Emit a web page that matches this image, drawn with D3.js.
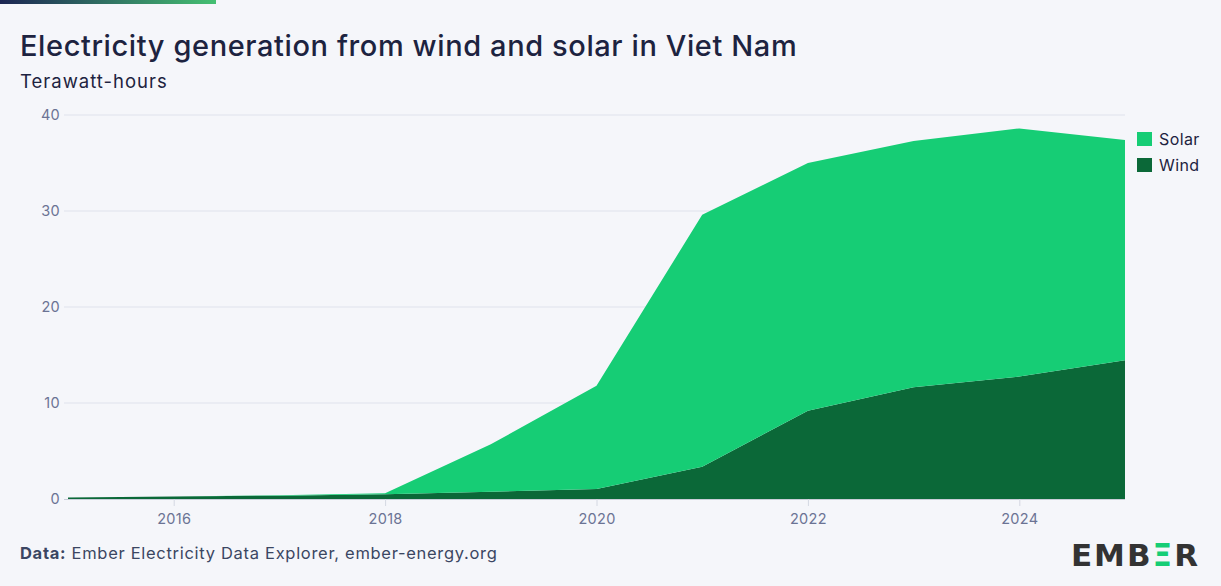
<!DOCTYPE html>
<html>
<head>
<meta charset="utf-8">
<script src="https://cdn.jsdelivr.net/npm/d3@7"></script>
<style>
  html, body { margin: 0; padding: 0; background: #f5f6fa; }
  svg { display: block; font-family: Inter, "Noto Sans", sans-serif; }
</style>
</head>
<body>
<svg id="drawing_region"></svg>
<script>
// values in TWh
const years = [2015, 2016, 2017, 2018, 2019, 2020, 2021, 2022, 2023, 2024, 2025];
const wind  = [0.15, 0.25, 0.35, 0.5, 0.75, 1.05, 3.35, 9.2, 11.65, 12.75, 14.45];
const solar = [0.0, 0.0, 0.05, 0.1, 4.95, 10.75, 26.25, 25.8, 25.65, 25.85, 22.95];
const yTicks = [0, 10, 20, 30, 40];
const xTicks = [2016, 2018, 2020, 2022, 2024];
const seriesNames = ['Wind', 'Solar'];
const colors = {Wind: '#0b6838', Solar: '#16cd75'};

const config = {
    width: 1221,
    height: 586,
    margin: {top: 115, right: 96, bottom: 87, left: 68}
};

const svg = d3.select('#drawing_region')
    .attr('width', config.width)
    .attr('height', config.height);

// top gradient strip
const grad = svg.append('defs').append('linearGradient')
    .attr('id', 'topbar');
grad.append('stop').attr('offset', '0%').attr('stop-color', '#1c2553');
grad.append('stop').attr('offset', '100%').attr('stop-color', '#45c072');
svg.append('rect')
    .attr('x', 0).attr('y', 0)
    .attr('width', 216).attr('height', 4)
    .attr('fill', 'url(#topbar)');

svg.append('text')
    .attr('x', 20).attr('y', 56)
    .attr('font-size', 29).attr('font-weight', 500)
    .attr('letter-spacing', 0.6)
    .attr('fill', '#1d2340')
    .text('Electricity generation from wind and solar in Viet Nam');

svg.append('text')
    .attr('x', 20).attr('y', 88)
    .attr('font-size', 18.5)
    .attr('letter-spacing', 1)
    .attr('fill', '#1d2340')
    .text('Terawatt-hours');

const innerW = config.width - config.margin.left - config.margin.right;
const innerH = config.height - config.margin.top - config.margin.bottom;

const chart = svg.append('g')
    .attr('transform', `translate(${config.margin.left}, ${config.margin.top})`);

const xscale = d3.scaleLinear()
    .domain([2015, 2025])
    .range([0, innerW]);

const yscale = d3.scaleLinear()
    .domain([0, 40])
    .range([innerH, 0]);

// grid
chart.append('g')
    .selectAll('line')
    .data(yTicks.filter(d => d > 0))
    .join('line')
    .attr('x1', -4).attr('x2', innerW)
    .attr('y1', d => yscale(d)).attr('y2', d => yscale(d))
    .attr('stroke', '#dfe2ec').attr('stroke-width', 1);

// y labels
const yaxis = d3.axisLeft(yscale).tickValues(yTicks).tickSize(0).tickPadding(8);
const yg = chart.append('g').call(yaxis);
yg.select('.domain').remove();
yg.selectAll('text')
    .attr('font-family', 'Inter, "Noto Sans", sans-serif')
    .attr('font-size', 14.5).attr('letter-spacing', 0.3).attr('fill', '#6b7394');

// stacked areas
const table = years.map((y, i) => ({year: y, Wind: wind[i], Solar: solar[i]}));
const stack = d3.stack().keys(seriesNames)(table);
const area = d3.area()
    .x(d => xscale(d.data.year))
    .y0(d => yscale(d[0]))
    .y1(d => yscale(d[1]));

chart.selectAll('path.layer')
    .data(stack)
    .join('path')
    .attr('class', 'layer')
    .attr('d', area)
    .attr('fill', d => colors[d.key]);

// x axis
const xaxis = d3.axisBottom(xscale)
    .tickValues(xTicks)
    .tickFormat(d3.format('d'))
    .tickSize(7).tickPadding(8)
    .tickSizeOuter(0);
const xg = chart.append('g')
    .attr('transform', `translate(0, ${innerH})`)
    .call(xaxis);
xg.select('.domain').attr('stroke', '#c9cdd9').attr('d', `M-4,0.5H${innerW}`);
xg.selectAll('.tick line').attr('stroke', '#d4d8e2');
xg.selectAll('text')
    .attr('font-family', 'Inter, "Noto Sans", sans-serif')
    .attr('font-size', 14.5).attr('letter-spacing', 0.3).attr('fill', '#6b7394');

// legend
const legendNames = ['Solar', 'Wind'];
const legend = svg.append('g')
    .attr('transform', 'translate(1137, 132)');
const li = legend.selectAll('g')
    .data(legendNames)
    .join('g')
    .attr('transform', (d, i) => `translate(0, ${i * 26})`);
li.append('rect')
    .attr('width', 15).attr('height', 14)
    .attr('fill', d => colors[d]);
li.append('text')
    .attr('x', 22).attr('y', 13)
    .attr('font-size', 16).attr('letter-spacing', 0.4).attr('fill', '#1d2340')
    .text(d => d);

// footer
const foot = svg.append('text')
    .attr('x', 20).attr('y', 559)
    .attr('font-size', 16.5).attr('letter-spacing', 0.7).attr('fill', '#3b4662');
foot.append('tspan').attr('font-weight', 700).text('Data:');
foot.append('tspan').text(' Ember Electricity Data Explorer, ember-energy.org');

// logo
const logo = svg.append('text')
    .attr('x', 1200).attr('y', 566)
    .attr('text-anchor', 'end')
    .attr('font-family', '"DejaVu Sans", sans-serif')
    .attr('font-size', 31).attr('font-weight', 700)
    .attr('letter-spacing', 2)
    .attr('fill', '#333333');
logo.append('tspan').text('EMB');
logo.append('tspan').attr('fill', '#16cd75').text('Ξ');
logo.append('tspan').text('R');
</script>
</body>
</html>
